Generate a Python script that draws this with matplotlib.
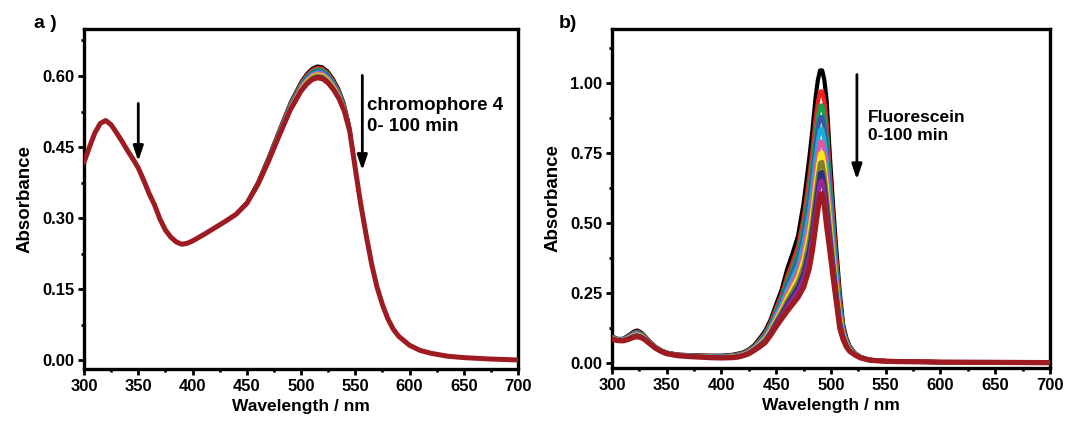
import numpy as np
import matplotlib.pyplot as plt
from matplotlib.ticker import MultipleLocator, FormatStrFormatter

plt.rcParams['font.family'] = ['Liberation Sans', 'DejaVu Sans']

# 0, 10, ..., 100 min (Origin default palette order)
colors = ['#000000', '#F22020', '#14A050', '#3A56A8', '#16AED6', '#E257A5',
          '#F5EB10', '#7F7F2A', '#2B2F86', '#8E2A91', '#9E1B22']

# ---- panel a: chromophore 4 ----
wl_a = [300, 305, 310, 315, 320, 325, 330, 335, 340, 345, 350, 355, 360, 365, 370,
        375, 380, 385, 390, 395, 400, 410, 420, 430, 440, 450, 460, 470, 480, 490,
        500, 505, 510, 515, 520, 525, 530, 535, 540, 545, 550, 555, 560, 565, 570,
        575, 580, 585, 590, 600, 610, 620, 635, 650, 675, 700]
abs_a_0min = [0.418, 0.450, 0.480, 0.500, 0.506, 0.497, 0.480, 0.462, 0.443, 0.425,
              0.406, 0.380, 0.352, 0.328, 0.298, 0.275, 0.260, 0.250, 0.245, 0.247,
              0.252, 0.265, 0.279, 0.293, 0.310, 0.335, 0.378, 0.432, 0.490, 0.546,
              0.590, 0.606, 0.617, 0.622, 0.620, 0.611, 0.595, 0.574, 0.544, 0.497,
              0.415, 0.336, 0.265, 0.204, 0.155, 0.118, 0.088, 0.066, 0.051, 0.032,
              0.021, 0.015, 0.009, 0.006, 0.003, 0.001]
abs_a_100min = [0.418, 0.450, 0.480, 0.500, 0.506, 0.497, 0.480, 0.462, 0.443, 0.425,
                0.406, 0.380, 0.352, 0.328, 0.298, 0.275, 0.260, 0.250, 0.245, 0.247,
                0.252, 0.265, 0.279, 0.293, 0.308, 0.331, 0.370, 0.420, 0.475, 0.528,
                0.568, 0.582, 0.592, 0.596, 0.594, 0.585, 0.571, 0.552, 0.525, 0.482,
                0.405, 0.330, 0.265, 0.204, 0.155, 0.118, 0.088, 0.066, 0.051, 0.032,
                0.021, 0.015, 0.009, 0.006, 0.003, 0.001]
peaks_a = [0.622, 0.619, 0.616, 0.613, 0.610, 0.608, 0.605, 0.603, 0.600, 0.598, 0.596]

# ---- panel b: fluorescein ----
wl_b = [300, 305, 310, 315, 320, 323, 327, 330, 335, 340, 345, 350, 360, 370, 380,
        390, 400, 410, 415, 420, 425, 430, 435, 440, 445, 450, 455, 460, 465, 470,
        475, 480, 483, 486, 488, 490, 492, 494, 496, 499, 502, 505, 508, 511, 514,
        517, 522, 527, 535, 545, 560, 600, 650, 700]
abs_b_0min = [0.095, 0.086, 0.086, 0.098, 0.112, 0.116, 0.108, 0.096, 0.075, 0.057,
              0.045, 0.037, 0.030, 0.028, 0.027, 0.026, 0.026, 0.029, 0.033, 0.038,
              0.048, 0.064, 0.088, 0.115, 0.155, 0.210, 0.262, 0.335, 0.392, 0.455,
              0.570, 0.725, 0.830, 0.950, 1.010, 1.045, 1.045, 1.010, 0.940, 0.740,
              0.560, 0.400, 0.255, 0.140, 0.090, 0.060, 0.035, 0.022, 0.012, 0.008,
              0.005, 0.003, 0.002, 0.001]
abs_b_100min = [0.085, 0.080, 0.079, 0.084, 0.092, 0.094, 0.090, 0.083, 0.067, 0.052,
                0.041, 0.033, 0.026, 0.023, 0.021, 0.019, 0.018, 0.019, 0.021, 0.026,
                0.033, 0.045, 0.058, 0.073, 0.100, 0.130, 0.158, 0.185, 0.210, 0.235,
                0.270, 0.335, 0.400, 0.487, 0.545, 0.600, 0.605, 0.560, 0.490, 0.400,
                0.305, 0.215, 0.125, 0.085, 0.058, 0.042, 0.028, 0.018, 0.010, 0.007,
                0.005, 0.003, 0.002, 0.001]
peaks_b = [1.045, 0.970, 0.920, 0.879, 0.837, 0.792, 0.751, 0.718, 0.682, 0.652, 0.605]


def draw_panel(ax, wl, first, last, peaks, thin, thick):
    first = np.array(first)
    last = np.array(last)
    for i, (pk, c) in enumerate(zip(peaks, colors)):
        w = (pk - peaks[-1]) / (peaks[0] - peaks[-1])
        y = last + (first - last) * w
        lw = thick if i == len(peaks) - 1 else thin
        ax.plot(wl, y, color=c, lw=lw, solid_capstyle='round', zorder=2 + i)


def style_axes(ax, ymajor, ylim):
    ax.set_xlim(300, 700)
    ax.set_ylim(*ylim)
    ax.xaxis.set_major_locator(MultipleLocator(50))
    ax.xaxis.set_minor_locator(MultipleLocator(25))
    ax.yaxis.set_major_locator(MultipleLocator(ymajor))
    ax.yaxis.set_minor_locator(MultipleLocator(ymajor / 2))
    ax.yaxis.set_major_formatter(FormatStrFormatter('%.2f'))
    for s in ax.spines.values():
        s.set_linewidth(2.4)
    ax.tick_params(which='major', direction='out', length=4, width=2,
                   labelsize=12, pad=3)
    ax.tick_params(which='minor', direction='out', length=2.5, width=2)
    for lab in ax.get_xticklabels() + ax.get_yticklabels():
        lab.set_fontweight('bold')
    ax.set_xlabel('Wavelength / nm', fontsize=12.5, fontweight='bold', labelpad=4)
    ax.set_ylabel('Absorbance', fontsize=13.5, fontweight='bold', labelpad=6)


fig = plt.figure(figsize=(10.65, 4.22), dpi=100)
ax1 = fig.add_axes([0.0789, 0.1256, 0.4075, 0.8057])
ax2 = fig.add_axes([0.5746, 0.128, 0.4113, 0.8033])

draw_panel(ax1, wl_a, abs_a_0min, abs_a_100min, peaks_a, 1.6, 3.6)
draw_panel(ax2, wl_b, abs_b_0min, abs_b_100min, peaks_b, 3.0, 3.8)

style_axes(ax1, 0.15, (-0.018, 0.699))
style_axes(ax2, 0.25, (-0.018, 1.193))

arrow = dict(arrowstyle='-|>,head_length=0.9,head_width=0.3', color='black', lw=2)
ax1.annotate('', xy=(350, 0.414), xytext=(350, 0.548), arrowprops=arrow)
ax1.annotate('', xy=(556.5, 0.395), xytext=(556.5, 0.607), arrowprops=arrow)
ax1.text(561, 0.516, 'chromophore 4\n0- 100 min', fontsize=13.5, fontweight='bold',
         ha='left', va='center', linespacing=1.3)

ax2.annotate('', xy=(523.7, 0.645), xytext=(523.7, 1.040), arrowprops=arrow)
ax2.text(534, 0.843, 'Fluorescein\n0-100 min', fontsize=12.5, fontweight='bold',
         ha='left', va='center', linespacing=1.25)

fig.text(34 / 1065, 1 - 23.5 / 422, 'a )', fontsize=14, fontweight='bold',
         ha='left', va='center')
fig.text(559 / 1065, 1 - 23.5 / 422, 'b)', fontsize=14, fontweight='bold',
         ha='left', va='center')

fig.savefig('out.png', dpi=100)
